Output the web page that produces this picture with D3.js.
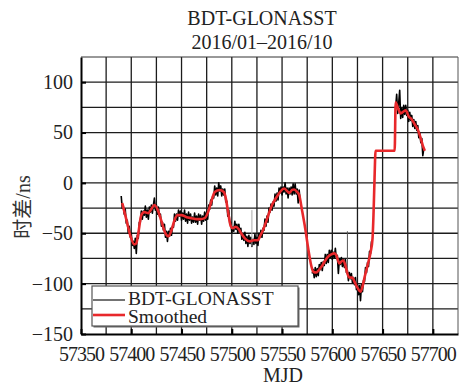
<!DOCTYPE html>
<html>
<head>
<meta charset="utf-8">
<script src="https://cdn.jsdelivr.net/npm/d3@7/dist/d3.min.js"></script>
<style>
  html, body { margin: 0; padding: 0; background: #fff; }
  svg { display: block; }
</style>
</head>
<body>
<svg id="chart" width="459" height="386"></svg>
<script>
// Chart text
const titleLines = ["BDT-GLONASST", "2016/01\u20132016/10"];
const xLabel = "MJD";
const yLabel = "时差/ns";
const legendLabels = ["BDT-GLONASST", "Smoothed"];

// Axis ticks
const xTicks = [57350, 57400, 57450, 57500, 57550, 57600, 57650, 57700];
const yTicks = [100, 50, 0, -50, -100, -150];

// Daily clock-offset samples (ns), three continuous runs
const rawRun1Start = 57390;
const rawRun1 = [
  -13, -25, -22, -31, -26, -40, -37, -50, -43, -54,
  -50, -62, -58, -65, -55, -70, -52, -55, -39, -39,
  -28, -36, -28, -32, -23, -34, -27, -36, -24, -29,
  -22, -30, -22, -15, -27, -22, -31, -24, -33, -31,
  -43, -39, -47, -41, -54, -48, -58, -48, -53, -45,
  -52, -43, -44, -31, -38, -31, -37, -27, -33, -28,
  -37, -30, -36, -27, -38, -31, -40, -29, -37, -31,
  -40, -34, -39, -30, -39, -33, -41, -31, -37, -32,
  -41, -33, -38, -29, -37, -29, -36, -22, -26, -17,
  -22, -13, -15, -3, -12, -5, -13, 0, -8, -3,
  -13, -6, -12, -6, -19, -18, -33, -27, -40, -39,
  -49, -44, -48, -38, -46, -41, -50, -41, -49, -45,
  -56, -50, -57, -49, -60, -53, -63, -52, -60, -54,
  -63, -56, -61, -51, -60, -54, -62, -50, -54, -47,
  -54, -45, -47, -36, -43, -33, -39, -25, -29, -21,
  -27, -19, -23, -11, -18, -10, -17, -5, -10, -4,
  -12, -4, -9, 0, -11, -5, -15, -5, -11, -4,
  -12, -1, -11, -1, -11, -6, -20, -7, -18
];
const rawRun2Start = 57580;
const rawRun2 = [
  -90, -86, -94, -84, -93, -85, -92, -81, -86, -79,
  -87, -78, -82, -71, -80, -71, -79, -67, -74, -67,
  -76, -69, -74, -65, -75, -72, -90, -75, -81, -74,
  -83, -76, -84, -76, -89, -87, -97, -89, -95, -90,
  -99, -94, -101, -94, -106, -101, -111, -102, -117, -101,
  -108, -97, -98, -84, -89, -79, -83, -68, -70, -58
];
const rawRun3Start = 57663;
const rawRun3 = [
  75, 88, 69, 79, 92, 64, 74, 65, 77, 68,
  77, 67, 72, 61, 70, 62, 67, 56, 63, 54,
  61, 52, 57, 45, 50, 40, 44, 27, 34
];

// Isolated outlier readings
const outlierMjd = [57520, 57615];
const outlierValue = [-27, -48];

// Smoothed series: MJD and value (ns)
const smoothMjd = [
  57391, 57395, 57399, 57403, 57405, 57407, 57410, 57413, 57417, 57420,
  57423, 57426, 57430, 57434, 57437, 57440, 57443, 57446, 57450, 57455,
  57460, 57465, 57469, 57473, 57476, 57478, 57481, 57483, 57488, 57492,
  57494, 57496, 57499, 57501, 57504, 57507, 57510, 57513, 57518, 57522,
  57526, 57528, 57531, 57534, 57537, 57540, 57544, 57548, 57552, 57555,
  57557, 57560, 57562, 57565, 57567, 57570, 57573, 57576, 57579, 57581,
  57584, 57587, 57590, 57593, 57596, 57599, 57602, 57604, 57606, 57607,
  57609, 57611, 57613, 57615, 57617, 57620, 57622, 57625, 57628, 57630,
  57632, 57635, 57638, 57640, 57641, 57642, 57643, 57662, 57663, 57665,
  57668, 57671, 57673, 57676, 57679, 57682, 57685, 57688, 57690, 57692
];
const smoothValue = [
  -20, -36, -52, -61, -60, -50, -32, -29, -30, -26,
  -22, -26, -38, -50, -53, -47, -37, -32, -32, -34,
  -35, -36, -36, -35, -30, -24, -14, -9, -7, -9,
  -15, -27, -43, -45, -43.5, -46, -51, -55, -58, -57,
  -57, -53, -47, -39, -30, -22, -15, -9, -5.5, -8,
  -10, -7, -6.5, -9, -12, -28, -45, -65, -82, -88,
  -89, -86, -82, -77, -73, -71, -70, -72, -78, -80,
  -78, -77, -82, -90, -94, -94, -98, -104, -108, -103,
  -94, -82, -69, -55, -30, 5, 32, 32, 80, 75,
  69, 71, 72, 66, 63, 58, 53, 44, 37, 32
];

const FONT = "'Liberation Serif'";
const FONT_CJK = "'Liberation Serif', 'Noto Sans CJK SC'";
const TEXT_COLOR = "#222";

const svg = d3.select("#chart");
const plotLeft = 81, plotRight = 458, plotTop = 57, plotBottom = 334;

const x = d3.scaleLinear().domain([57350, 57725]).range([plotLeft, plotRight]);
const y = d3.scaleLinear().domain([-150, 125]).range([plotBottom, plotTop]);

// Grid every 25 units
const gx = d3.range(57375, 57725, 25);
const gy = d3.range(-125, 125, 25);
const grid = svg.append("g").attr("stroke", "#1c1c1c").attr("stroke-width", 1.3);
grid.selectAll("line.v").data(gx).join("line").attr("class", "v")
  .attr("x1", d => x(d)).attr("x2", d => x(d))
  .attr("y1", plotTop).attr("y2", plotBottom);
grid.selectAll("line.h").data(gy).join("line").attr("class", "h")
  .attr("x1", plotLeft).attr("x2", plotRight)
  .attr("y1", d => y(d)).attr("y2", d => y(d));

// Frame: thin top/right, heavier left/bottom axes
svg.append("line").attr("x1", plotLeft).attr("x2", plotRight).attr("y1", plotTop).attr("y2", plotTop)
  .attr("stroke", "#333").attr("stroke-width", 1);
svg.append("line").attr("x1", plotRight).attr("x2", plotRight).attr("y1", plotTop).attr("y2", plotBottom)
  .attr("stroke", "#555").attr("stroke-width", 1);

// Raw series
const line = d3.line().x(d => x(d[0])).y(d => y(d[1]));
const runs = [[rawRun1Start, rawRun1], [rawRun2Start, rawRun2], [rawRun3Start, rawRun3]]
  .map(([s, vals]) => vals.map((v, i) => [s + i, v]));
svg.append("g").selectAll("path").data(runs).join("path")
  .attr("d", line).attr("fill", "none")
  .attr("stroke", "#000").attr("stroke-width", 1.6).attr("stroke-linejoin", "round");

// Outliers as thin spikes from the neighbouring sample
function rawAt(m) {
  for (const r of runs) {
    const p = r.find(d => d[0] === m);
    if (p) return p[1];
  }
  return null;
}
svg.append("g").selectAll("line").data(outlierMjd.map((m, i) => [m, outlierValue[i]])).join("line")
  .attr("x1", d => x(d[0])).attr("x2", d => x(d[0]))
  .attr("y1", d => y(rawAt(d[0]))).attr("y2", d => y(d[1]))
  .attr("stroke", (d, i) => i === 0 ? "#aaa" : "#555").attr("stroke-width", 1);

// Smoothed series
const smooth = smoothMjd.map((m, i) => [m, smoothValue[i]]);
svg.append("path")
  .attr("d", d3.line().x(d => x(d[0])).y(d => y(d[1])).curve(d3.curveMonotoneX)(smooth))
  .attr("fill", "none").attr("stroke", "#e8282b").attr("stroke-width", 2.6)
  .attr("stroke-linejoin", "round");

// Axes
const xAxis = svg.append("g").attr("transform", `translate(0,${plotBottom})`)
  .call(d3.axisBottom(x).tickValues(xTicks).tickSize(-5).tickSizeOuter(0).tickFormat(d3.format("d")));
xAxis.attr("font-family", FONT).attr("font-size", 20);
xAxis.select(".domain").attr("stroke", "#000").attr("stroke-width", 2);
xAxis.selectAll(".tick line").attr("stroke", "#000").attr("stroke-width", 2);
xAxis.selectAll(".tick text").style("font-family", FONT).style("font-size", "20px")
  .attr("letter-spacing", "-1px").attr("fill", TEXT_COLOR).attr("y", 13).attr("dy", "0.71em");

const yAxis = svg.append("g").attr("transform", `translate(${plotLeft},0)`)
  .call(d3.axisLeft(y).tickValues(yTicks).tickSize(-5).tickSizeOuter(0).tickPadding(8)
    .tickFormat(d => d < 0 ? "\u2212" + Math.abs(d) : String(d)));
yAxis.attr("font-family", FONT).attr("font-size", 20);
yAxis.select(".domain").attr("stroke", "#000").attr("stroke-width", 2);
yAxis.selectAll(".tick line").attr("stroke", "#000").attr("stroke-width", 2);
yAxis.selectAll(".tick text").style("font-family", FONT).style("font-size", "20px").attr("fill", TEXT_COLOR);

// Titles and axis labels
function label(sel, fam) {
  return sel.attr("font-family", fam || FONT).style("font-family", fam || FONT)
    .style("font-size", "20px").attr("fill", TEXT_COLOR);
}
label(svg.append("text").attr("x", 262).attr("y", 25).attr("text-anchor", "middle").text(titleLines[0]));
label(svg.append("text").attr("x", 262).attr("y", 49).attr("text-anchor", "middle").text(titleLines[1]));
label(svg.append("text").attr("x", 283).attr("y", 382).attr("text-anchor", "middle").text(xLabel));
label(svg.append("text").attr("transform", "translate(30,207) rotate(-90)")
  .attr("text-anchor", "middle").text(yLabel), FONT_CJK).attr("fill", "#333");

// Legend
const lg = svg.append("g");
lg.append("rect").attr("x", 93.5).attr("y", 287.5).attr("width", 206).attr("height", 40)
  .attr("fill", "#666");
lg.append("rect").attr("x", 92).attr("y", 286).attr("width", 206).attr("height", 40)
  .attr("fill", "#fff").attr("stroke", "#555").attr("stroke-width", 1.2);
const legendColors = ["#000", "#e8282b"];
const legendWidths = [1.1, 2.6];
legendLabels.forEach((t, i) => {
  const ly = 300 + i * 15;
  lg.append("line").attr("x1", 93).attr("x2", 125).attr("y1", ly).attr("y2", ly)
    .attr("stroke", legendColors[i]).attr("stroke-width", legendWidths[i]);
  label(lg.append("text").attr("x", 128).attr("y", 305 + i * 18).text(t)).style("font-size", "19.5px");
});
</script>
</body>
</html>
